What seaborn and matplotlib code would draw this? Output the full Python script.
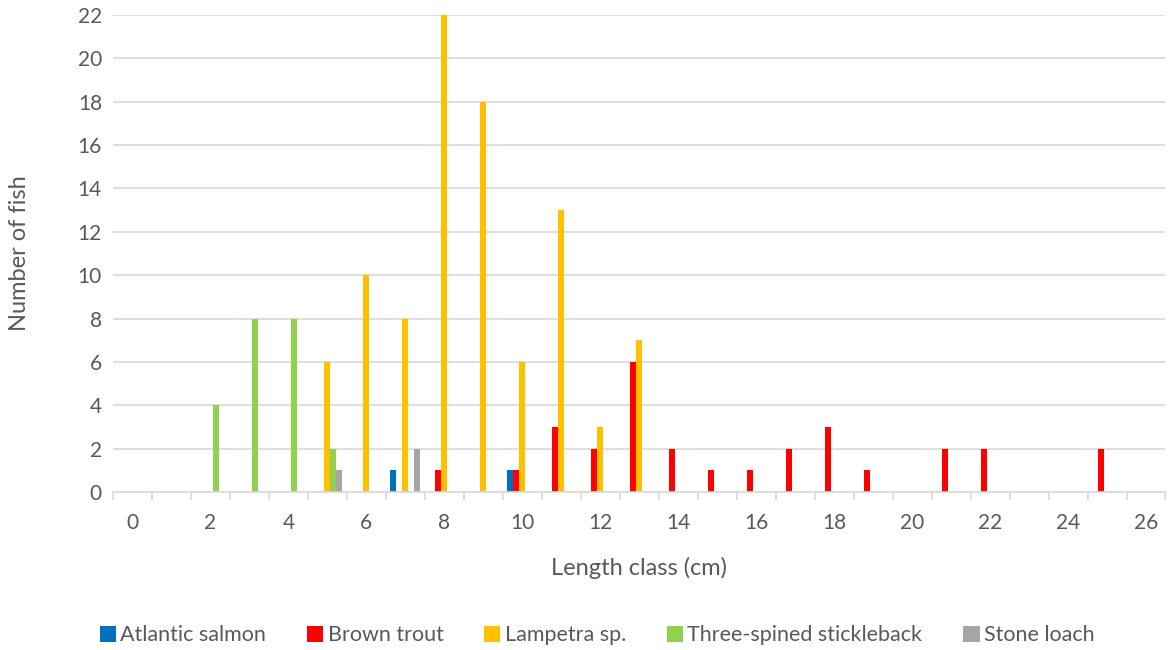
import pandas as pd
import matplotlib.pyplot as plt
import seaborn as sns
from matplotlib.ticker import FixedLocator

# length classes 0..26 cm
length_classes = list(range(27))

atlantic_salmon = {7: 1, 10: 1}
brown_trout = {8: 1, 10: 1, 11: 3, 12: 2, 13: 6, 14: 2, 15: 1, 16: 1, 17: 2,
               18: 3, 19: 1, 21: 2, 22: 2, 25: 2}
lampetra = {5: 6, 6: 10, 7: 8, 8: 22, 9: 18, 10: 6, 11: 13, 12: 3, 13: 7}
stickleback = {2: 4, 3: 8, 4: 8, 5: 2}
stone_loach = {5: 1, 7: 2}

species = ["Atlantic salmon", "Brown trout", "Lampetra sp.",
           "Three-spined stickleback", "Stone loach"]
series = [atlantic_salmon, brown_trout, lampetra, stickleback, stone_loach]
colors = ["#0070C0", "#FF0000", "#FFC000", "#92D050", "#A5A5A5"]

rows = []
for name, counts in zip(species, series):
    for lc in length_classes:
        rows.append({"Length": str(lc), "Species": name, "Count": counts.get(lc, 0)})
df = pd.DataFrame(rows)

sns.set_theme(style="white")
plt.rcParams["font.family"] = ["Lato", "DejaVu Sans"]

fig = plt.figure(figsize=(11.69, 6.5), dpi=100)
ax = fig.add_axes([0.0967, 0.243, 0.9003, 0.734])

sns.barplot(data=df, x="Length", y="Count", hue="Species", hue_order=species,
            order=[str(x) for x in length_classes], palette=colors,
            width=0.77, saturation=1, linewidth=0, ax=ax, legend=True)

ax.set_ylim(0, 22)
ax.set_xlim(-0.5, 26.5)
ax.set_yticks(range(0, 23, 2))
ax.yaxis.grid(True, color="#D9D9D9", linewidth=1.2)
ax.set_axisbelow(True)

ax.set_xticks(range(0, 27, 2))
ax.set_xticklabels([str(x) for x in range(0, 27, 2)])
ax.xaxis.set_minor_locator(FixedLocator([x - 0.5 for x in range(28)]))
ax.tick_params(axis="x", which="major", length=0, pad=15, labelsize=15, labelcolor="#595959")
ax.tick_params(axis="x", which="minor", length=6, color="#D9D9D9", width=1.2, direction="out", bottom=True)
ax.tick_params(axis="y", length=0, labelsize=15, labelcolor="#595959", pad=8)

for s in ["top", "right", "left"]:
    ax.spines[s].set_visible(False)
ax.spines["bottom"].set_color("#D9D9D9")
ax.spines["bottom"].set_linewidth(1.2)

ax.set_xlabel("Length class (cm)", fontsize=17, color="#595959", labelpad=17)
ax.set_ylabel("Number of fish", fontsize=17, color="#595959", labelpad=34)

ax.legend(loc="center", bbox_to_anchor=(0.46, -0.3), ncol=5, frameon=False,
          fontsize=15.5, handlelength=0.75, handleheight=0.75, handletextpad=0.2,
          columnspacing=1.9, labelcolor="#595959")

fig.savefig("out.png", dpi=100)
